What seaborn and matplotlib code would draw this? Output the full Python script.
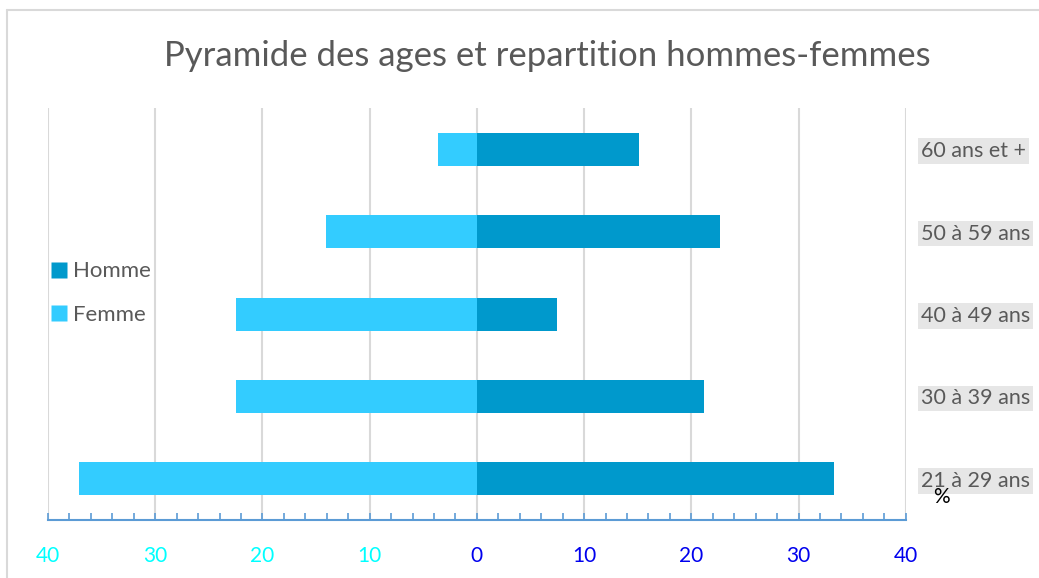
import pandas as pd
import numpy as np
import matplotlib
matplotlib.use("Agg")
import matplotlib.pyplot as plt
import seaborn as sns
from matplotlib.lines import Line2D
from matplotlib.ticker import MultipleLocator

# Data (percent)
ages = ["60 ans et +", "50 à 59 ans", "40 à 49 ans", "30 à 39 ans", "21 à 29 ans"]
homme = [15.1, 22.7, 7.5, 21.2, 33.3]
femme = [3.6, 14.1, 22.5, 22.5, 37.1]
tick_values = [-40, -30, -20, -10, 0, 10, 20, 30, 40]
tick_labels = ["40", "30", "20", "10", "0", "10", "20", "30", "40"]

# Long table, femmes on the negative side
df = pd.concat([
    pd.DataFrame({"age": ages, "valeur": homme, "sexe": "Homme"}),
    pd.DataFrame({"age": ages, "valeur": [-v for v in femme], "sexe": "Femme"}),
])

sns.set_theme(style="white")
plt.rcParams['font.family'] = ['Lato', 'DejaVu Sans']

colors = {"Homme": "#0099CC", "Femme": "#33CCFF"}
text_gray = "#595959"

fig = plt.figure(figsize=(10.39, 5.78), dpi=100)
ax = fig.add_axes([0.0462, 0.1003, 0.8256, 0.7128])

sns.barplot(data=df, x="valeur", y="age", hue="sexe", order=ages,
            hue_order=["Homme", "Femme"], palette=colors, dodge=False,
            orient="h", width=0.4, saturation=1, edgecolor="none",
            legend=False, ax=ax)

ax.set_xlim(-40, 40)
ax.set_ylim(4.5, -0.5)
ax.set_xlabel("")
ax.set_ylabel("")

# vertical grid
ax.set_xticks(tick_values)
ax.xaxis.set_minor_locator(MultipleLocator(2))
ax.grid(axis="x", color="#D9D9D9", linewidth=1.5)
ax.set_axisbelow(True)

for side in ["top", "left", "right"]:
    ax.spines[side].set_visible(False)
ax.spines["bottom"].set_color("#5B9BD5")
ax.spines["bottom"].set_linewidth(1.5)

ax.tick_params(axis="x", which="both", bottom=True, direction="in",
               color="#5B9BD5", width=1.2, length=5, pad=19)
ax.set_xticklabels(tick_labels, fontsize=15)
for v, lab in zip(tick_values, ax.get_xticklabels()):
    lab.set_color("#00FFFF" if v < 0 else "#0000EE")

# category labels on the right with grey boxes
ax.yaxis.tick_right()
ax.tick_params(axis="y", length=0, pad=11)
ax.set_yticks(range(len(ages)))
ax.set_yticklabels(ages, fontsize=15.5, color=text_gray)
for lab in ax.get_yticklabels():
    lab.set_bbox(dict(facecolor="#E6E6E6", edgecolor="none", pad=2))

# legend
handles = [Line2D([0], [0], marker="s", linestyle="none", markersize=11,
                  markerfacecolor=colors[k], markeredgecolor="none", label=k)
           for k in ["Homme", "Femme"]]
leg = fig.legend(handles=handles, loc="center left",
                 bbox_to_anchor=(0.029, 0.493), frameon=False, fontsize=16,
                 handlelength=0.8, handletextpad=0.25, labelspacing=1.05)
for t in leg.get_texts():
    t.set_color(text_gray)

fig.suptitle("Pyramide des ages et repartition hommes-femmes",
             x=0.527, y=0.903, fontsize=25, color=text_gray, va="center")
fig.text(0.906, 0.14, "%", fontsize=15, color="black", ha="center", va="center")

# chart frame (top and left edges visible)
fig.add_artist(Line2D([7 / 1039, 1.0], [1 - 10 / 578, 1 - 10 / 578],
                      transform=fig.transFigure, color="#D9D9D9", linewidth=1.5))
fig.add_artist(Line2D([7 / 1039, 7 / 1039], [0.0, 1 - 10 / 578],
                      transform=fig.transFigure, color="#D9D9D9", linewidth=1.5))

fig.savefig("out.png", dpi=100, facecolor="white")
